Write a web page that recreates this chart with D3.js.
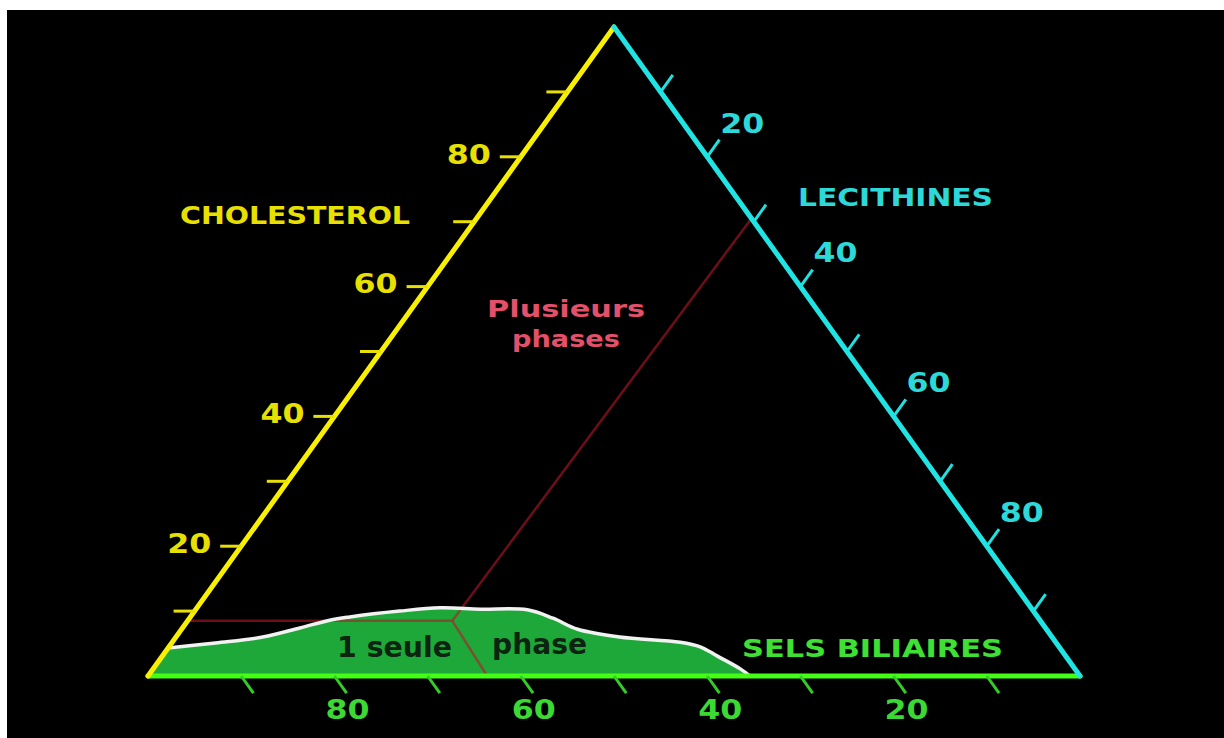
<!DOCTYPE html>
<html>
<head>
<meta charset="utf-8">
<script src="https://cdn.jsdelivr.net/npm/d3@7"></script>
<style>
  body { margin: 0; background: #fff; }
  svg { display: block; }
  text { font-family: "DejaVu Sans", Verdana, sans-serif; font-weight: bold; }
</style>
</head>
<body>
<svg id="chart"></svg>
<script>
// ticks on every side, labels on every other one
const tickValues = [10, 20, 30, 40, 50, 60, 70, 80, 90];
const labelValues = [20, 40, 60, 80];

// top of the one phase zone, % cholesterol and % lecithin at each point
const zoneCholesterol = [4.3, 5.1, 6.0, 7.4, 8.6, 9.1, 10.0, 10.5, 10.3, 10.2, 8.9, 7.2, 6.0, 5.2, 4.5, 3.1, 1.1, 0];
const zoneLecithin = [0, 4.7, 9.3, 12.6, 15.2, 17.1, 22.0, 26.1, 30.5, 35.6, 39.0, 42.5, 47.6, 54.5, 57.0, 59.5, 63.0, 64.6];

// phase boundaries: left side to knot, knot to base, knot to right side
const boundaryCholesterol = [[8.5, 8.5], [8.5, 0], [8.5, 70.5]];
const boundaryLecithin = [[0, 28.4], [28.4, 36.4], [28.4, 29.5]];

const axisTitles = ["CHOLESTEROL", "LECITHINES", "SELS BILIAIRES"];
const zoneTitles = ["Plusieurs", "phases", "1 seule", "phase"];

class ternaryChart {
    constructor(_config) {
        this.config = {
            parentElement: _config.parentElement,
            containerWidth: _config.containerWidth || 1224,
            containerHeight: _config.containerHeight || 738,
            tickLength: 21
        }
        this.initVis();
    }

    initVis() {
        let vis = this;

        vis.svg = d3.select(vis.config.parentElement)
            .attr('width', vis.config.containerWidth)
            .attr('height', vis.config.containerHeight);

        vis.svg.append('rect')
            .attr('x', 7)
            .attr('y', 10)
            .attr('width', vis.config.containerWidth - 7)
            .attr('height', vis.config.containerHeight - 10)
            .attr('fill', '#000');

        // bottom runs with lecithin + cholesterol/2, height with cholesterol
        vis.xScale = d3.scaleLinear().domain([0, 100]).range([148, 1080]);
        vis.yScale = d3.scaleLinear().domain([0, 100]).range([676, 27]);
        vis.project = (c, l) => [vis.xScale(l + c / 2), vis.yScale(c)];

        vis.chart = vis.svg.append('g');
    }

    updateVis() {
        let vis = this;

        vis.zone = zoneCholesterol.map((c, i) => vis.project(c, zoneLecithin[i]));
        vis.boundaries = boundaryCholesterol.map((cs, i) =>
            cs.map((c, j) => vis.project(c, boundaryLecithin[i][j])));

        vis.bl = vis.project(0, 0);
        vis.top = vis.project(100, 0);
        vis.br = vis.project(0, 100);

        const unit = (a, b) => {
            const dx = b[0] - a[0], dy = b[1] - a[1], n = Math.hypot(dx, dy);
            return [dx / n, dy / n];
        };
        vis.upLeftSide = unit(vis.bl, vis.top);
        vis.downRightSide = unit(vis.top, vis.br);

        vis.curve = d3.line().curve(d3.curveCatmullRom.alpha(0.5));

        vis.renderVis();
    }

    renderVis() {
        let vis = this;
        const len = vis.config.tickLength;

        // one phase zone
        vis.chart.append('path')
            .attr('d', vis.curve(vis.zone) + `L${vis.bl[0]},${vis.bl[1]}Z`)
            .attr('fill', '#1fa83a');

        vis.chart.selectAll('.boundary')
            .data(vis.boundaries)
            .join('path')
            .attr('class', 'boundary')
            .attr('d', d3.line())
            .attr('fill', 'none')
            .attr('stroke', '#b8182a')
            .attr('stroke-opacity', 0.6)
            .attr('stroke-width', 2.5);

        vis.chart.append('path')
            .attr('d', vis.curve(vis.zone))
            .attr('fill', 'none')
            .attr('stroke', '#f2f2f2')
            .attr('stroke-width', 3.5);

        // sides of the triangle
        const sides = [
            {a: vis.bl, b: vis.br, color: '#44ff14'},
            {a: vis.bl, b: vis.top, color: '#f8f000'},
            {a: vis.top, b: vis.br, color: '#20e4e4'}
        ];
        vis.chart.selectAll('.side')
            .data(sides)
            .join('line')
            .attr('class', 'side')
            .attr('x1', d => d.a[0]).attr('y1', d => d.a[1])
            .attr('x2', d => d.b[0]).attr('y2', d => d.b[1])
            .attr('stroke', d => d.color)
            .attr('stroke-width', 5)
            .attr('stroke-linecap', 'round');

        // cholesterol ticks, left side
        const cTicks = tickValues.map(v => vis.project(v, 0));
        vis.chart.selectAll('.c-tick')
            .data(cTicks)
            .join('line')
            .attr('class', 'c-tick')
            .attr('x1', d => d[0]).attr('y1', d => d[1])
            .attr('x2', d => d[0] - len).attr('y2', d => d[1])
            .attr('stroke', '#e8e000')
            .attr('stroke-width', 3);

        vis.chart.selectAll('.c-label')
            .data(labelValues)
            .join('text')
            .attr('class', 'c-label')
            .attr('x', d => vis.project(d, 0)[0] - 30)
            .attr('y', d => vis.project(d, 0)[1] - 3)
            .attr('dy', '0.36em')
            .attr('text-anchor', 'end')
            .attr('font-size', 27)
            .attr('textLength', 44)
            .attr('lengthAdjust', 'spacingAndGlyphs')
            .attr('fill', '#e8e000')
            .text(d => d);

        // lecithin ticks, right side
        const lTicks = tickValues.map(v => vis.project(100 - v, v));
        vis.chart.selectAll('.l-tick')
            .data(lTicks)
            .join('line')
            .attr('class', 'l-tick')
            .attr('x1', d => d[0]).attr('y1', d => d[1])
            .attr('x2', d => d[0] + len * vis.upLeftSide[0])
            .attr('y2', d => d[1] + len * vis.upLeftSide[1])
            .attr('stroke', '#20e0e0')
            .attr('stroke-width', 3);

        vis.chart.selectAll('.l-label')
            .data(labelValues)
            .join('text')
            .attr('class', 'l-label')
            .attr('x', d => vis.project(100 - d, d)[0] + 35)
            .attr('y', d => vis.project(100 - d, d)[1] - 34)
            .attr('dy', '0.36em')
            .attr('text-anchor', 'middle')
            .attr('font-size', 27)
            .attr('textLength', 44)
            .attr('lengthAdjust', 'spacingAndGlyphs')
            .attr('fill', '#2cd8d8')
            .text(d => d);

        // bile salt ticks, bottom side
        const sTicks = tickValues.map(v => vis.project(0, 100 - v));
        vis.chart.selectAll('.s-tick')
            .data(sTicks)
            .join('line')
            .attr('class', 's-tick')
            .attr('x1', d => d[0]).attr('y1', d => d[1])
            .attr('x2', d => d[0] + len * vis.downRightSide[0])
            .attr('y2', d => d[1] + len * vis.downRightSide[1])
            .attr('stroke', '#34cc28')
            .attr('stroke-width', 3);

        vis.chart.selectAll('.s-label')
            .data(labelValues)
            .join('text')
            .attr('class', 's-label')
            .attr('x', d => vis.project(0, 100 - d)[0] + 13)
            .attr('y', d => vis.project(0, 100 - d)[1] + 33)
            .attr('dy', '0.36em')
            .attr('text-anchor', 'middle')
            .attr('font-size', 27)
            .attr('textLength', 44)
            .attr('lengthAdjust', 'spacingAndGlyphs')
            .attr('fill', '#3cd834')
            .text(d => d);

        // titles
        const titles = [
            {text: axisTitles[0], x: 180, y: 224, w: 230, size: 24, color: '#e8e000'},
            {text: axisTitles[1], x: 798, y: 206, w: 195, size: 24, color: '#2cd8d8'},
            {text: axisTitles[2], x: 742, y: 657, w: 261, size: 24, color: '#3ee034'},
            {text: zoneTitles[0], x: 487, y: 317, w: 158, size: 23, color: '#e4506a'},
            {text: zoneTitles[1], x: 512, y: 347, w: 108, size: 23, color: '#e4506a'},
            {text: zoneTitles[2], x: 337, y: 657, w: 115, size: 28, color: '#0c2410'},
            {text: zoneTitles[3], x: 492, y: 654, w: 95, size: 28, color: '#0c2410'}
        ];
        vis.chart.selectAll('.title')
            .data(titles)
            .join('text')
            .attr('class', 'title')
            .attr('x', d => d.x)
            .attr('y', d => d.y)
            .attr('font-size', d => d.size)
            .attr('textLength', d => d.w)
            .attr('lengthAdjust', 'spacingAndGlyphs')
            .attr('fill', d => d.color)
            .text(d => d.text);
    }
}

const chart = new ternaryChart({parentElement: '#chart'});
chart.updateVis();
</script>
</body>
</html>
